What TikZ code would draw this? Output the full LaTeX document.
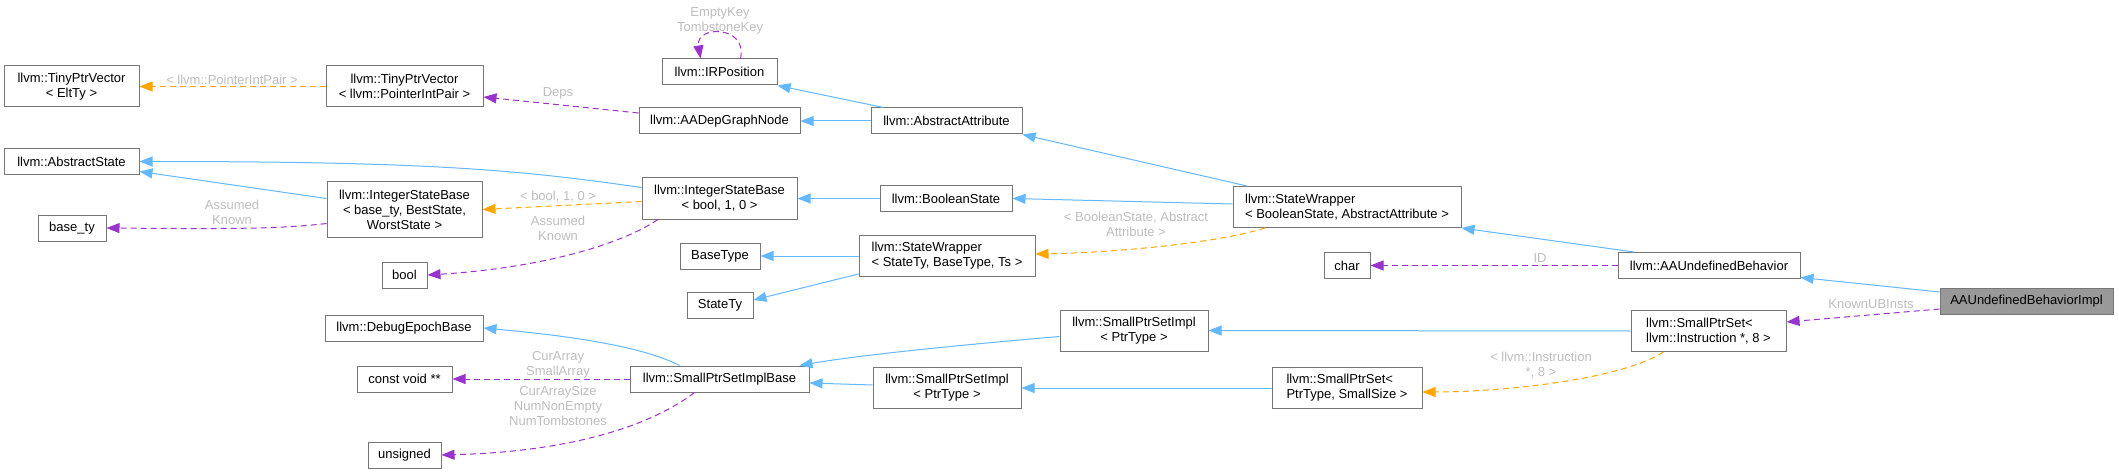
\documentclass[tikz,border=0pt]{standalone}
\usepackage{fontspec}
\setmainfont{Liberation Sans}
\usetikzlibrary{arrows.meta}
\definecolor{eblue}{HTML}{63B8FF}
\definecolor{eorange}{HTML}{FFA500}
\definecolor{epurple}{HTML}{9A32CD}
\definecolor{nborder}{HTML}{767676}
\definecolor{lgray}{HTML}{BEBEBE}
\definecolor{implfill}{HTML}{999999}
\begin{document}
\begin{tikzpicture}[x=1pt,y=-1pt,
  cls/.style={draw=nborder, line width=1pt, fill=white, inner xsep=2pt, inner ysep=1pt,
    font=\fontsize{13}{15}\selectfont, align=center},
  lcls/.style={cls, align=left},
  lbl/.style={text=lgray, font=\fontsize{13}{15}\selectfont, align=center, inner sep=0pt},
  tipA/.style={-{Triangle[length=13pt,width=10pt]}},
  inh/.style={draw=eblue, line width=1pt, tipA},
  tmpl/.style={draw=eorange, line width=1pt, dash pattern=on 6pt off 4pt, tipA},
  usage/.style={draw=epurple, line width=1pt, dash pattern=on 6pt off 4pt, tipA}
]
\useasboundingbox[fill=white] (0,0) rectangle (2119,473);

% nodes
\node[cls, minimum width=135pt, minimum height=41pt] (tpvE) at (71.5,86.5) {llvm::TinyPtrVector\\< EltTy >};
\node[cls, minimum width=157pt, minimum height=41pt] (tpvP) at (404.5,86.5) {llvm::TinyPtrVector\\< llvm::PointerIntPair >};
\node[cls, minimum width=135pt, minimum height=26pt] (absState) at (71.5,161.5) {llvm::AbstractState};
\node[cls, minimum width=155pt, minimum height=55pt] (isbB) at (404.5,209.5) {llvm::IntegerStateBase\\< base\_ty, BestState,\\WorstState >};
\node[cls, minimum width=68pt, minimum height=26pt] (basety) at (72,228) {base\_ty};
\node[cls, minimum width=115pt, minimum height=26pt] (irpos) at (719.5,72) {llvm::IRPosition};
\node[cls, minimum width=161pt, minimum height=26pt] (aadep) at (719.5,121) {llvm::AADepGraphNode};
\node[cls, minimum width=151pt, minimum height=26pt] (absattr) at (946.5,121) {llvm::AbstractAttribute};
\node[cls, minimum width=155pt, minimum height=41pt] (isbb) at (719.5,198.5) {llvm::IntegerStateBase\\< bool, 1, 0 >};
\node[cls, minimum width=132pt, minimum height=26pt] (boolstate) at (946,198.5) {llvm::BooleanState};
\node[lcls, minimum width=228pt, minimum height=41pt] (swBA) at (1347,207) {llvm::StateWrapper\\< BooleanState, AbstractAttribute >};
\node[cls, minimum width=45pt, minimum height=26pt] (bool) at (404.5,275) {bool};
\node[cls, minimum width=80pt, minimum height=26pt] (basetype) at (720,256) {BaseType};
\node[cls, minimum width=66pt, minimum height=26pt] (statety) at (720,305) {StateTy};
\node[lcls, minimum width=176pt, minimum height=41pt] (swST) at (947,256) {llvm::StateWrapper\\< StateTy, BaseType, Ts >};
\node[cls, minimum width=46pt, minimum height=26pt] (char) at (1347,265.5) {char};
\node[cls, minimum width=182pt, minimum height=26pt] (aaub) at (1709,265.5) {llvm::AAUndefinedBehavior};
\node[cls, fill=implfill, minimum width=173pt, minimum height=26pt] (impl) at (2026.5,301) {AAUndefinedBehaviorImpl};
\node[lcls, minimum width=155pt, minimum height=41pt] (spsI8) at (1708.5,331) {llvm::SmallPtrSet<\\ llvm::Instruction *, 8 >};
\node[cls, minimum width=148pt, minimum height=41pt] (spsImplTop) at (1134,330.5) {llvm::SmallPtrSetImpl\\< PtrType >};
\node[lcls, minimum width=150pt, minimum height=41pt] (spsPS) at (1347,388) {llvm::SmallPtrSet<\\ PtrType, SmallSize >};
\node[cls, minimum width=179pt, minimum height=26pt] (spsBase) at (719.5,379) {llvm::SmallPtrSetImplBase};
\node[cls, minimum width=148pt, minimum height=41pt] (spsImplBot) at (947,388) {llvm::SmallPtrSetImpl\\< PtrType >};
\node[cls, minimum width=158pt, minimum height=26pt] (debug) at (404,328) {llvm::DebugEpochBase};
\node[cls, minimum width=95pt, minimum height=26pt] (cvoid) at (404.5,379) {const void **};
\node[cls, minimum width=73pt, minimum height=26pt] (unsigned) at (404.5,455) {unsigned};

% edges
\draw[tmpl] (tpvP) -- (tpvE);
\draw[usage] ([yshift=8pt]aadep.west) -- ([yshift=-10.5pt]tpvP.east);
\draw[usage] ([xshift=21pt]irpos.north) .. controls (748,25) and (695,25) .. ([xshift=-19pt]irpos.north);
\draw[inh] ([xshift=-63pt]absattr.north) -- (irpos.south east);
\draw[inh] (absattr) -- (aadep);
\draw[inh] ([xshift=-100pt]swBA.north) -- (absattr.south east);
\draw[inh] ([yshift=3pt]swBA.west) -- (boolstate.east);
\draw[inh] (boolstate) -- (isbb);
\draw[inh] ([yshift=11pt]isbb.west) .. controls (520,170) and (430,161.5) .. (absState.east);
\draw[inh] ([yshift=11pt]isbB.west) -- ([yshift=-10pt]absState.east);
\draw[tmpl] ([yshift=-3pt]isbb.west) -- (isbB.east);
\draw[usage] ([yshift=-14pt]isbB.west) .. controls (280,229) and (230,229) .. (basety.east);
\draw[usage] ([xshift=-61.5pt]isbb.south) .. controls (620,245) and (540,268) .. (bool.east);
\draw[tmpl] ([xshift=-82pt]swBA.south) .. controls (1210,245) and (1100,253) .. ([yshift=2pt]swST.east);
\draw[inh] (swST) -- (basetype);
\draw[inh] ([yshift=-18pt]swST.west) -- ([yshift=5pt]statety.east);
\draw[inh] ([xshift=-75pt]aaub.north) -- (swBA.south east);
\draw[usage] (aaub) -- (char);
\draw[inh] ([yshift=9pt]impl.west) -- ([yshift=-12pt]aaub.east);
\draw[usage] ([yshift=-8pt]impl.west) -- ([yshift=9pt]spsI8.east);
\draw[inh] (spsI8.west) -- (spsImplTop.east);
\draw[tmpl] ([xshift=-45pt]spsI8.south) .. controls (1620,380) and (1500,392) .. ([yshift=-4pt]spsPS.east);
\draw[inh] (spsPS) -- (spsImplBot);
\draw[inh] ([yshift=-6pt]spsImplTop.west) .. controls (960,345) and (860,355) .. ([xshift=80pt]spsBase.north);
\draw[inh] ([yshift=3pt]spsImplBot.west) -- ([yshift=-4pt]spsBase.east);
\draw[inh] ([xshift=-40pt]spsBase.north) .. controls (640,345) and (560,335) .. (debug.east);
\draw[usage] (spsBase) -- (cvoid);
\draw[usage] ([xshift=-25pt]spsBase.south) .. controls (645,430) and (560,452) .. (unsigned.east);

% labels
\node[lbl] (l1) at (232,80) {< llvm::PointerIntPair >};
\node[lbl] (l2) at (558,93) {Deps};
\node[lbl] (l3) at (720,20.5) {EmptyKey\\TombstoneKey};
\node[lbl] (l4) at (558,197) {< bool, 1, 0 >};
\node[lbl] (l5) at (232,212) {Assumed\\Known};
\node[lbl] (l6) at (558,228) {Assumed\\Known};
\node[lbl] (l7) at (1136,224.5) {< BooleanState, Abstract\\Attribute >};
\node[lbl] (l8) at (1540,258) {ID};
\node[lbl] (l9) at (1871,304) {KnownUBInsts};
\node[lbl] (l10) at (1541,365) {< llvm::Instruction\\*, 8 >};
\node[lbl] (l11) at (558,364.5) {CurArray\\SmallArray};
\node[lbl] (l12) at (558,406) {CurArraySize\\NumNonEmpty\\NumTombstones};
\end{tikzpicture}
\end{document}
